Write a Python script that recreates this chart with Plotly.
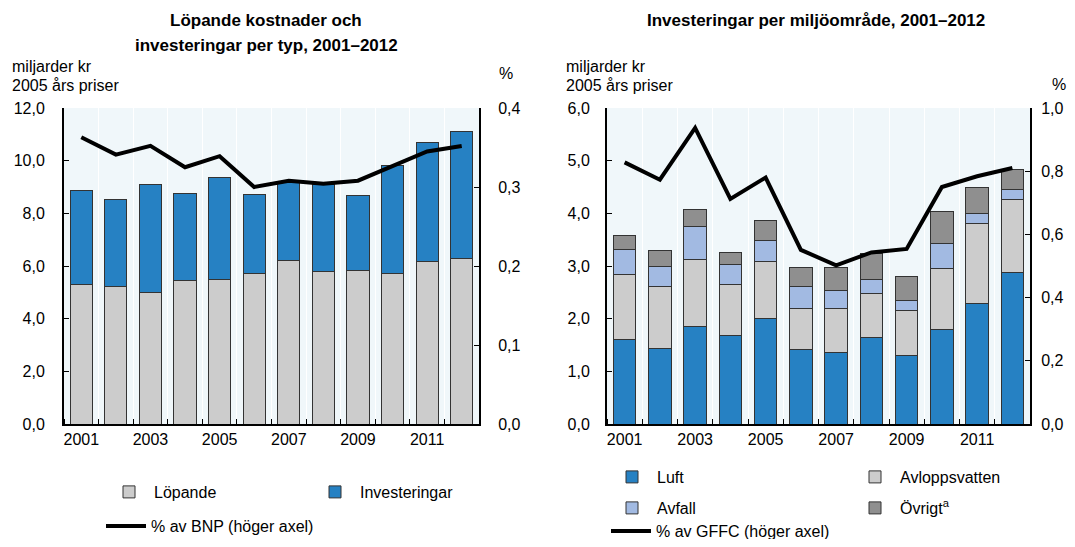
import plotly.graph_objects as go
from plotly.subplots import make_subplots

years = list(range(2001, 2013))

# Left chart: running costs and investments (billion SEK, 2005 prices)
lopande = [5.28, 5.22, 5.00, 5.46, 5.49, 5.72, 6.22, 5.80, 5.84, 5.73, 6.18, 6.27]
investeringar_total = [8.87, 8.54, 9.10, 8.76, 9.37, 8.72, 9.17, 9.10, 8.67, 9.80, 10.70, 11.11]
investeringar = [round(t - l, 2) for t, l in zip(investeringar_total, lopande)]
pct_bnp = [0.363, 0.341, 0.352, 0.325, 0.339, 0.300, 0.308, 0.304, 0.308, 0.326, 0.345, 0.352]

# Right chart: investments per environmental domain
luft = [1.61, 1.44, 1.86, 1.68, 2.00, 1.41, 1.36, 1.65, 1.30, 1.80, 2.28, 2.87]
avlopp = [1.22, 1.17, 1.26, 0.96, 1.09, 0.79, 0.84, 0.82, 0.85, 1.16, 1.52, 1.40]
avfall = [0.48, 0.39, 0.63, 0.39, 0.40, 0.41, 0.33, 0.27, 0.20, 0.46, 0.19, 0.19]
ovrigt = [0.27, 0.30, 0.33, 0.23, 0.38, 0.36, 0.44, 0.50, 0.45, 0.62, 0.50, 0.38]
pct_gffc = [0.828, 0.773, 0.937, 0.712, 0.780, 0.551, 0.502, 0.543, 0.554, 0.750, 0.784, 0.810]

tick_years = [2001, 2003, 2005, 2007, 2009, 2011]

FONT = "Liberation Sans Narrow, Arial Narrow, Liberation Sans, Arial, sans-serif"
BLUE = "#2681C3"
GREY = "#CCCCCC"
LBLUE = "#A2BAE2"
DGREY = "#8F8F8F"
EDGE = "#333333"
BG = "#F0F7FA"

# the page body has an 8px margin, so the figure is sized to fit inside the window without scrolling
OFF = 8
W, H = 1075 - OFF, 547 - 2 * OFF

fig = make_subplots(rows=1, cols=2, specs=[[{"secondary_y": True}, {"secondary_y": True}]])

# Left chart
fig.add_trace(go.Bar(x=years, y=lopande, name="Löpande", marker=dict(color=GREY, line=dict(color=EDGE, width=1)),
                     legend="legend", legendwidth=151), row=1, col=1, secondary_y=False)
fig.add_trace(go.Bar(x=years, y=investeringar, name="Investeringar", marker=dict(color=BLUE, line=dict(color=EDGE, width=1)),
                     legend="legend"), row=1, col=1, secondary_y=False)
fig.add_trace(go.Scatter(x=years, y=pct_bnp, name="% av BNP (höger axel)", mode="lines",
                         line=dict(color="black", width=4), legend="legend2"), row=1, col=1, secondary_y=True)

# Right chart
for vals, name, col, lg, lw in [(luft, "Luft", BLUE, "legend3", 188), (avlopp, "Avloppsvatten", GREY, "legend3", None),
                                (avfall, "Avfall", LBLUE, "legend4", 188), (ovrigt, "Övrigt<sup>a</sup>", DGREY, "legend4", None)]:
    fig.add_trace(go.Bar(x=years, y=vals, name=name, marker=dict(color=col, line=dict(color=EDGE, width=1)),
                         legend=lg, legendwidth=lw), row=1, col=2, secondary_y=False)
fig.add_trace(go.Scatter(x=years, y=pct_gffc, name="% av GFFC (höger axel)", mode="lines",
                         line=dict(color="black", width=4), legend="legend5"), row=1, col=2, secondary_y=True)

def px(s):
    return (s - OFF) / W

def py(s):
    return 1 - (s - OFF) / H

xL = [px(64), px(479)]
xR = [px(607), px(1030)]
ydom = [py(424), py(108)]

xcommon = dict(range=[2000.5, 2012.5], tickvals=tick_years, ticks="", showline=True, linecolor="black", linewidth=2,
               showgrid=False, zeroline=False, tickfont=dict(size=16, color="black"), automargin=False,
               minor=dict(tick0=2000.5, dtick=1, ticks="inside", ticklen=5, tickcolor="black", tickwidth=1,
                          showgrid=True, gridcolor="white", gridwidth=1))
fig.update_xaxes(**xcommon)
fig.update_layout(xaxis=dict(domain=xL), xaxis2=dict(domain=xR))

ycommon = dict(showline=True, linecolor="black", linewidth=2, ticks="inside", ticklen=5, tickcolor="black",
               showgrid=False, zeroline=False, tickformat=".1f", tickfont=dict(size=16, color="black"),
               automargin=False)
fig.update_layout(
    yaxis=dict(domain=ydom, range=[0, 12], dtick=2, ticklabelstandoff=14, **ycommon),
    yaxis2=dict(range=[0, 0.4], dtick=0.1, side="right", ticklabelstandoff=14, **ycommon),
    yaxis3=dict(domain=ydom, range=[0, 6], dtick=1, ticklabelstandoff=12, **ycommon),
    yaxis4=dict(range=[0, 1.0], dtick=0.2, side="right", ticklabelstandoff=6, **ycommon),
)

fig.update_layout(
    width=W, height=H, autosize=False,
    margin=dict(l=0, r=0, t=0, b=0, autoexpand=False),
    paper_bgcolor="white", plot_bgcolor=BG,
    barmode="stack", bargap=0.36,
    separators=", ",
    font=dict(family=FONT, size=16, color="black"),
    showlegend=True,
)

legcommon = dict(orientation="h", xanchor="left", yanchor="middle", bgcolor="rgba(0,0,0,0)",
                 font=dict(size=16), itemwidth=40, traceorder="normal", tracegroupgap=0)
fig.update_layout(
    legend=dict(x=px(104), y=py(492), **legcommon),
    legend2=dict(x=px(101), y=py(526), **legcommon),
    legend3=dict(x=px(607), y=py(477), **legcommon),
    legend4=dict(x=px(607), y=py(508), **legcommon),
    legend5=dict(x=px(606), y=py(531), **legcommon),
)

ann = [
    dict(text="<b>Löpande kostnader och</b>", x=px(266), y=py(20)),
    dict(text="<b>investeringar per typ, 2001–2012</b>", x=px(266), y=py(45)),
    dict(text="<b>Investeringar per miljöområde, 2001–2012</b>", x=px(816), y=py(20)),
]
for a in ann:
    fig.add_annotation(xref="paper", yref="paper", showarrow=False, xanchor="center", yanchor="middle",
                       font=dict(size=17, family=FONT), **a)

side = [
    dict(text="miljarder kr", x=px(10), y=py(66), xanchor="left"),
    dict(text="2005 års priser", x=px(10), y=py(86), xanchor="left"),
    dict(text="%", x=px(497), y=py(74), xanchor="left"),
    dict(text="miljarder kr", x=px(564), y=py(66), xanchor="left"),
    dict(text="2005 års priser", x=px(564), y=py(86), xanchor="left"),
    dict(text="%", x=px(1050), y=py(85), xanchor="left"),
]
for a in side:
    fig.add_annotation(xref="paper", yref="paper", showarrow=False, yanchor="middle",
                       font=dict(size=16, family=FONT), **a)

fig.write_html("out.html")
